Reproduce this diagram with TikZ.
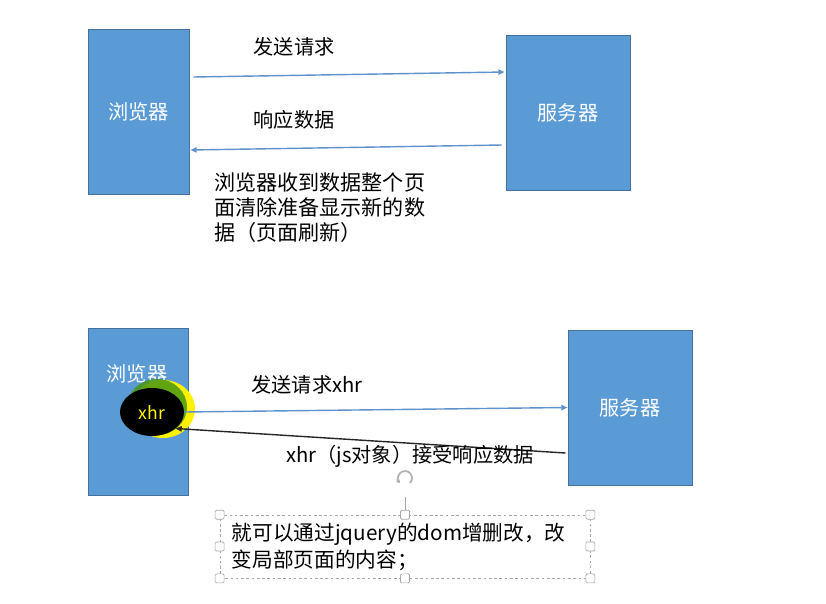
\documentclass[tikz,border=0pt]{standalone}
\usepackage{fontspec}
\setmainfont{Noto Sans CJK SC}
\usetikzlibrary{arrows.meta,calc,shapes.geometric}
\definecolor{boxblue}{RGB}{91,155,213}
\definecolor{boxedge}{RGB}{65,113,156}
\definecolor{linkblue}{RGB}{95,145,205}
\definecolor{glowgreen}{RGB}{70,150,20}
\tikzset{
  box/.style={draw=boxedge,fill=boxblue,line width=1.1pt,inner sep=0pt},
  boxtext/.style={text=white,font=\fontsize{23}{28}\selectfont},
  lbl/.style={font=\fontsize{23}{28}\selectfont},
  link/.style={linkblue,line width=1.6pt,-{Triangle[length=7pt,width=6pt]}},
  handle/.style={draw=gray!70,fill=white,line width=0.8pt,rounded corners=1.5pt}
}
\begin{document}
\begin{tikzpicture}[x=0.04cm,y=-0.04cm]
  \useasboundingbox (0,0) rectangle (826,603);
  % full page refresh
  \node (browserA) [box,boxtext,minimum width=4.04cm,minimum height=6.6cm] at (138.5,111.5) {浏览器};
  \node (serverA) [box,boxtext,minimum width=4.96cm,minimum height=6.2cm] at (568,112.5) {服务器};
  \draw[link] ([shift={(4,-34.5)}]browserA.east) -- ([shift={(-1,-40.5)}]serverA.west);
  \draw[link] ([shift={(-4,32.5)}]serverA.west) -- ([shift={(1,38.5)}]browserA.east);
  \path (294,47) node (sendA) [lbl] {发送请求};
  \path (294,120) node (respA) [lbl] {响应数据};
  \node (refresh) [anchor=north west,align=left,inner sep=0pt,
    font=\fontsize{24}{28.4}\selectfont] at (214,173)
    {浏览器收到数据整个页\\面清除准备显示新的数\\据（页面刷新）};
  % ajax
  \node (browserB) [box,minimum width=4cm,minimum height=6.68cm] at (138,411.5) {};
  \node (browserBtext) [boxtext] at (137,374) {浏览器};
  \node (serverB) [box,boxtext,minimum width=4.96cm,minimum height=6.2cm] at (630,407.5) {服务器};
  \fill[yellow] (163,409) ellipse [x radius=32,y radius=29];
  \fill[glowgreen,opacity=0.85] (157,407) ellipse [x radius=30,y radius=28];
  \node (xhr) [ellipse,fill=black,minimum width=2.56cm,minimum height=1.92cm,inner sep=0pt,
    text=yellow,font=\fontsize{20}{24}\selectfont] at (152,412) {xhr};
  \draw[link] (xhr.east) -- (serverB.west);
  \draw[black!85,line width=1.6pt,-{Triangle[length=7pt,width=6pt]}]
    ([shift={(-2,45.5)}]serverB.west) -- (xhr.-35);
  \path (307,385) node (sendB) [lbl] {发送请求xhr};
  \path (410,456) node (respB) [lbl] {xhr（js对象）接受响应数据};
  % selected text box
  \node (note) [draw=gray!70,dashed,line width=0.8pt,minimum width=14.8cm,minimum height=2.52cm,
    text width=13.84cm,align=left,inner xsep=0.48cm,
    font=\fontsize{23.5}{30.7}\selectfont] at (405,546.5)
    {就可以通过jquery的dom增删改，改\\变局部页面的内容；};
  \coordinate (rot) at (405,488);
  \draw[gray!70,line width=0.8pt] (note.north) -- ([shift={(0,-18)}]note.north);
  \draw[gray!60,line width=2pt,-{Triangle[length=4pt,width=5pt]}]
    ([shift={(5,-5)}]rot) arc [start angle=45,end angle=-225,radius=7];
  \foreach \a in {north west,north,north east,east,south east,south,south west,west}
    \draw[handle] (note.\a) +(-4.5,-4.5) rectangle +(4.5,4.5);
\end{tikzpicture}
\end{document}
